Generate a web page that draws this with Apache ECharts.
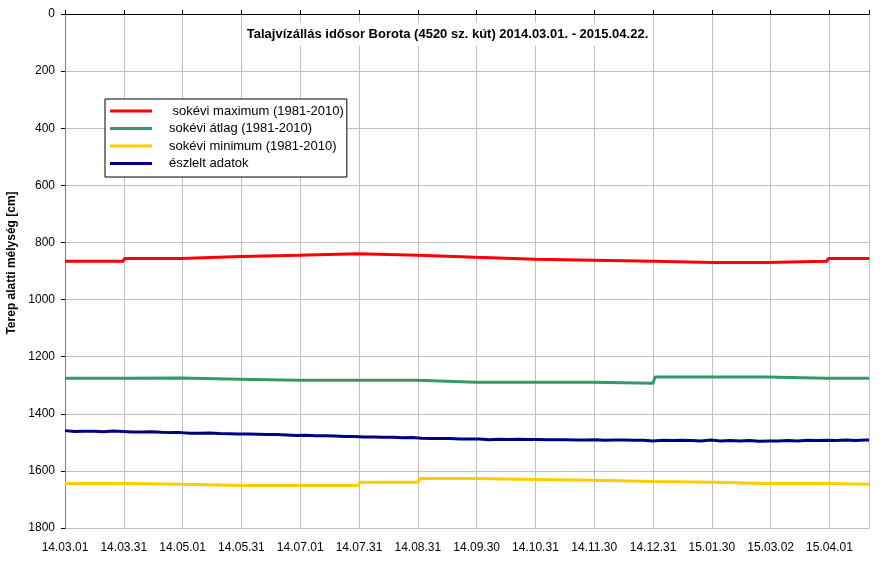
<!DOCTYPE html>
<html>
<head>
<meta charset="utf-8">
<script src="https://cdn.jsdelivr.net/npm/echarts@6/dist/echarts.min.js"></script>
<style>
html,body{margin:0;padding:0;background:#fff;}
#chart{width:895px;height:564px;}
</style>
</head>
<body>
<div id="chart"></div>
<script>
// ---- data ----
const titleText = 'Talajvízállás idősor Borota (4520 sz. kút) 2014.03.01. - 2015.04.22.';
const yAxisName = 'Terep alatti mélység [cm]';
const seriesNames = [' sokévi maximum (1981-2010)', 'sokévi átlag (1981-2010)', 'sokévi minimum (1981-2010)', 'észlelt adatok'];
const startDate = '2014-03-01';
const endDate = '2015-04-22';
const monthStarts = ['2014-03-01','2014-04-01','2014-05-01','2014-06-01','2014-07-01','2014-08-01','2014-09-01',
  '2014-10-01','2014-11-01','2014-12-01','2015-01-01','2015-02-01','2015-03-01','2015-04-01'];
const maxMonthly = [866, 856, 849, 845, 840, 845, 852, 859, 862, 866, 870, 870, 866, 856];
const avgMonthly = [1276, 1275, 1279, 1283, 1283, 1283, 1290, 1290, 1290, 1293, 1271, 1271, 1276, 1276];
const minMonthly = [1644, 1647, 1651, 1651, 1651, 1640, 1627, 1630, 1633, 1637, 1640, 1644, 1644, 1647];
// observed levels every 5 days from 2014-03-01, last value at end date
const obsStepDays = 5;
const obsValues = [1459,1462,1461,1461,1463,1460,1462,1464,1464,1463,1465,1466,1466,1468,1468,1467,1469,1470,1471,1471,
  1472,1473,1473,1474,1476,1475,1477,1477,1478,1480,1480,1481,1481,1482,1482,1484,1483,1486,1487,1487,
  1487,1488,1488,1488,1491,1489,1490,1489,1490,1490,1491,1491,1491,1492,1492,1491,1493,1492,1492,1493,
  1493,1495,1493,1494,1493,1494,1495,1492,1495,1494,1495,1494,1496,1495,1495,1494,1495,1493,1494,1493,
  1494,1492,1494,1492];
const obsEndValue = 1492;
const yTicks = {min: 0, max: 1800, interval: 200};
const xTickIntervalDays = 30.5;
const colors = ['#FF0000', '#339966', '#FFCC00', '#000080'];

// ---- helpers ----
function utc(s){ const p = s.split('-').map(Number); return Date.UTC(p[0], p[1]-1, p[2]); }
const START = utc(startDate);
function dayIndex(s){ return (utc(s) - START) / 86400000; }
const endDay = dayIndex(endDate);
function pad(n){ return (n < 10 ? '0' : '') + n; }
function fmtDay(v){
  const d = new Date(START + Math.floor(v + 1e-6) * 86400000);
  return pad(d.getUTCFullYear() % 100) + '.' + pad(d.getUTCMonth() + 1) + '.' + pad(d.getUTCDate());
}
// each monthly value is held constant from the first to the last day of its month
function monthlySeries(vals){
  const out = [];
  monthStarts.forEach((m, i) => {
    const a = dayIndex(m);
    const b = i + 1 < monthStarts.length ? dayIndex(monthStarts[i + 1]) - 1 : endDay;
    out.push([a, vals[i]], [b, vals[i]]);
  });
  return out;
}
const obsData = obsValues.map((v, i) => [i * obsStepDays, v]);
obsData.push([endDay, obsEndValue]);

const font = 'Arial, "Liberation Sans", sans-serif';
const chart = echarts.init(document.getElementById('chart'), null, {renderer: 'canvas'});
chart.setOption({
  animation: false,
  backgroundColor: '#fff',
  textStyle: {fontFamily: font},
  title: {
    text: titleText,
    left: 'center',
    top: 23,
    padding: [5, 4, 5, 4],
    backgroundColor: '#fff',
    textStyle: {fontFamily: font, fontSize: 13, fontWeight: 'bold', color: '#000'}
  },
  graphic: [{
    type: 'text',
    x: 12,
    y: 263,
    rotation: Math.PI / 2,
    style: {text: yAxisName, fontFamily: font, fontSize: 12, fontWeight: 'bold', fill: '#000',
      textAlign: 'center', textVerticalAlign: 'middle'}
  }],
  legend: {
    orient: 'vertical',
    left: 105,
    top: 99,
    padding: [4.5, 3, 6, 5],
    itemGap: 2.5,
    itemWidth: 42,
    itemHeight: 3,
    borderColor: '#000',
    borderWidth: 1,
    backgroundColor: '#fff',
    icon: 'rect',
    textStyle: {fontFamily: font, fontSize: 13, color: '#000', padding: [0, 0, 0, 12], lineHeight: 15},
    data: seriesNames
  },
  grid: {left: 65, top: 14, width: 804, height: 514, containLabel: false, outerBoundsMode: 'none'},
  xAxis: [{
    type: 'value',
    position: 'bottom',
    min: 0, max: endDay, interval: xTickIntervalDays,
    axisLine: {show: true, lineStyle: {color: '#000', width: 1}},
    axisTick: {show: false},
    axisLabel: {show: true, margin: 14, fontSize: 12, color: '#000', fontFamily: font,
      showMaxLabel: false, formatter: fmtDay},
    splitLine: {show: true, lineStyle: {color: '#C0C0C0', width: 1}}
  }, {
    type: 'value',
    position: 'top',
    min: 0, max: endDay, interval: xTickIntervalDays,
    axisLine: {show: true, lineStyle: {color: '#000', width: 1}},
    axisTick: {show: true, inside: false, length: 4, lineStyle: {color: '#000'}},
    axisLabel: {show: false},
    splitLine: {show: false}
  }],
  yAxis: [{
    type: 'value',
    inverse: true,
    min: yTicks.min, max: yTicks.max, interval: yTicks.interval,
    axisLine: {show: true, lineStyle: {color: '#000', width: 1}},
    axisTick: {show: true, inside: false, length: 4, lineStyle: {color: '#000'}},
    axisLabel: {margin: 10, fontSize: 12, color: '#000', fontFamily: font, formatter: v => String(v)},
    splitLine: {show: true, lineStyle: {color: '#C0C0C0', width: 1}}
  }, {
    type: 'value',
    position: 'right',
    inverse: true,
    min: yTicks.min, max: yTicks.max, interval: yTicks.interval,
    axisLine: {show: true, lineStyle: {color: '#808080', width: 1}},
    axisTick: {show: false},
    axisLabel: {show: false},
    splitLine: {show: false}
  }],
  series: [
    {name: seriesNames[0], type: 'line', data: monthlySeries(maxMonthly), symbol: 'none',
      lineStyle: {color: colors[0], width: 3}, itemStyle: {color: colors[0]}},
    {name: seriesNames[1], type: 'line', data: monthlySeries(avgMonthly), symbol: 'none',
      lineStyle: {color: colors[1], width: 3}, itemStyle: {color: colors[1]}},
    {name: seriesNames[2], type: 'line', data: monthlySeries(minMonthly), symbol: 'none',
      lineStyle: {color: colors[2], width: 3}, itemStyle: {color: colors[2]}},
    {name: seriesNames[3], type: 'line', data: obsData, symbol: 'none',
      lineStyle: {color: colors[3], width: 3}, itemStyle: {color: colors[3]}}
  ]
});
</script>
</body>
</html>
